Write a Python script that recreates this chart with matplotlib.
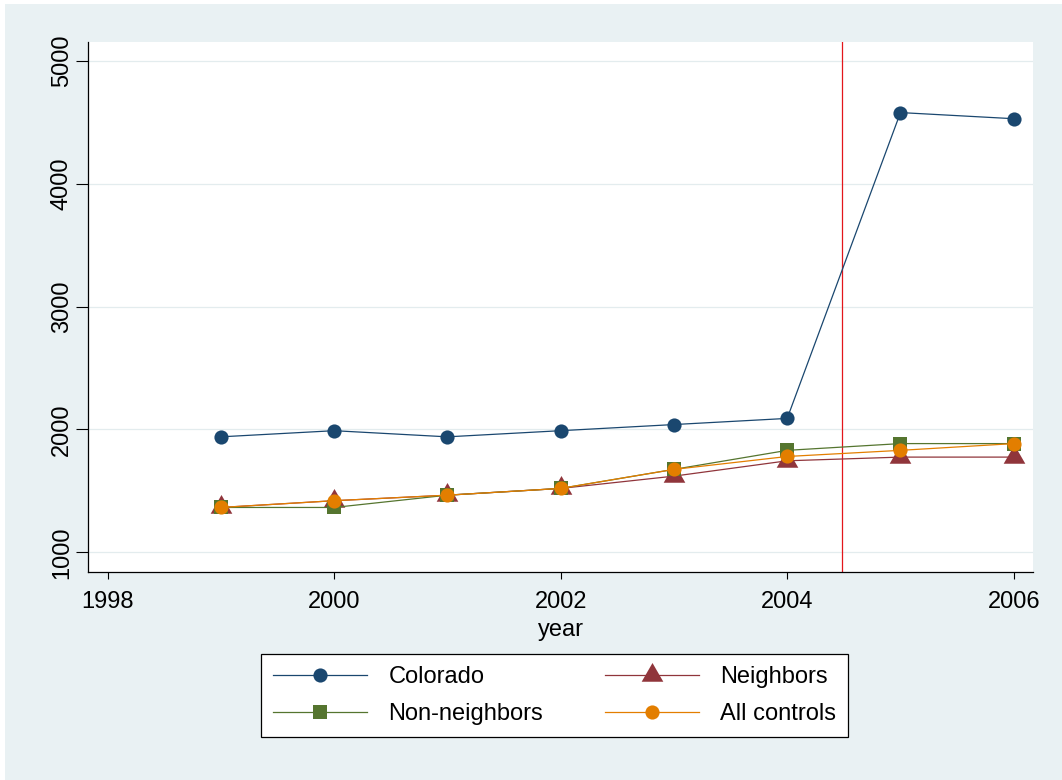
import matplotlib
matplotlib.use("Agg")
import matplotlib.pyplot as plt
from matplotlib.patches import Rectangle
from matplotlib.path import Path

plt.rcParams['font.family'] = ['Liberation Sans', 'DejaVu Sans']

# ---- data -------------------------------------------------------------
years = [1999, 2000, 2001, 2002, 2003, 2004, 2005, 2006]
colorado = [1940, 1990, 1940, 1990, 2040, 2090, 4580, 4530]
neighbors = [1365, 1420, 1465, 1520, 1620, 1745, 1775, 1775]
non_neighbors = [1365, 1365, 1465, 1520, 1675, 1830, 1885, 1885]
all_controls = [1365, 1420, 1465, 1520, 1675, 1780, 1830, 1885]

series_names = ["Colorado", "Neighbors", "Non-neighbors", "All controls"]
x_ticks = [1998, 2000, 2002, 2004, 2006]
x_tick_labels = ["1998", "2000", "2002", "2004", "2006"]
y_ticks = [1000, 2000, 3000, 4000, 5000]
y_tick_labels = ["1000", "2000", "3000", "4000", "5000"]
policy_year = 2004.48

# ---- style ------------------------------------------------------------
BG = "#E9F1F3"
GRID = "#E3ECEE"
NAVY = "#1A476F"
MAROON = "#90353B"
GREEN = "#55752F"
ORANGE = "#E37E00"
FS = 17

# equilateral triangle centred on its centroid
tri_verts = [(0.0, 1.1547), (-1.0, -0.5774), (1.0, -0.5774), (0.0, 1.1547)]
triangle = Path(tri_verts, [Path.MOVETO, Path.LINETO, Path.LINETO, Path.CLOSEPOLY])

W, H = 1062, 780
fig = plt.figure(figsize=(W / 100, H / 100), dpi=100, facecolor="white")
fig.patches.append(Rectangle((5 / W, 0), 1 - 5 / W, 1 - 4 / H,
                             transform=fig.transFigure, facecolor=BG,
                             edgecolor="none", zorder=-10))

ax = fig.add_axes([88.3 / W, 1 - 571.7 / H, (1033 - 88.3) / W, (571.7 - 41.7) / H])
ax.set_facecolor("white")

ax.set_xlim(1997.83, 2006.17)
ax.set_ylim(842, 5157)

for v in y_ticks:
    ax.axhline(v, color=GRID, lw=0.9, zorder=0)

ax.axvline(policy_year, color="#E3161B", lw=0.9, zorder=1)

lw = 0.9
h_col, = ax.plot(years, colorado, color=NAVY, lw=lw, marker="o", ms=10.2,
                 markeredgewidth=0, zorder=3)
h_nb, = ax.plot(years, neighbors, color=MAROON, lw=lw, marker=triangle, ms=18,
                markeredgewidth=0, zorder=3)
h_nn, = ax.plot(years, non_neighbors, color=GREEN, lw=lw, marker="s", ms=10.4,
                markeredgewidth=0, zorder=3)
h_all, = ax.plot(years, all_controls, color=ORANGE, lw=lw, marker="o", ms=10.2,
                 markeredgewidth=0, zorder=3)

ax.set_xticks(x_ticks)
ax.set_xticklabels(x_tick_labels, fontsize=FS)
ax.set_yticks(y_ticks)
ax.set_yticklabels(y_tick_labels, fontsize=FS, rotation=90, va="center")
ax.tick_params(axis="x", length=5, width=0.8, pad=9, colors="black")
ax.tick_params(axis="y", length=8.6, width=0.8, pad=2.5, colors="black")
ax.set_xlabel("year", fontsize=FS, labelpad=4)

for s in ("top", "right"):
    ax.spines[s].set_visible(False)
for s in ("left", "bottom"):
    ax.spines[s].set_linewidth(0.9)
    ax.spines[s].set_color("black")

# legend: two columns, Colorado / Neighbors on the first row
handles = [h_col, h_nn, h_nb, h_all]
labels = [series_names[0], series_names[2], series_names[1], series_names[3]]
leg = fig.legend(handles, labels, ncol=2, loc="upper left",
                 bbox_to_anchor=(261 / W, 1 - 654 / H),
                 bbox_transform=fig.transFigure,
                 fontsize=FS, frameon=True, fancybox=False,
                 edgecolor="black", facecolor="white", framealpha=1,
                 handlelength=4.0, handletextpad=0.9, columnspacing=2.6,
                 labelspacing=0.66, borderpad=0.5, borderaxespad=0)
leg.get_frame().set_linewidth(0.9)

fig.savefig("out.png", dpi=100, facecolor=fig.get_facecolor())
